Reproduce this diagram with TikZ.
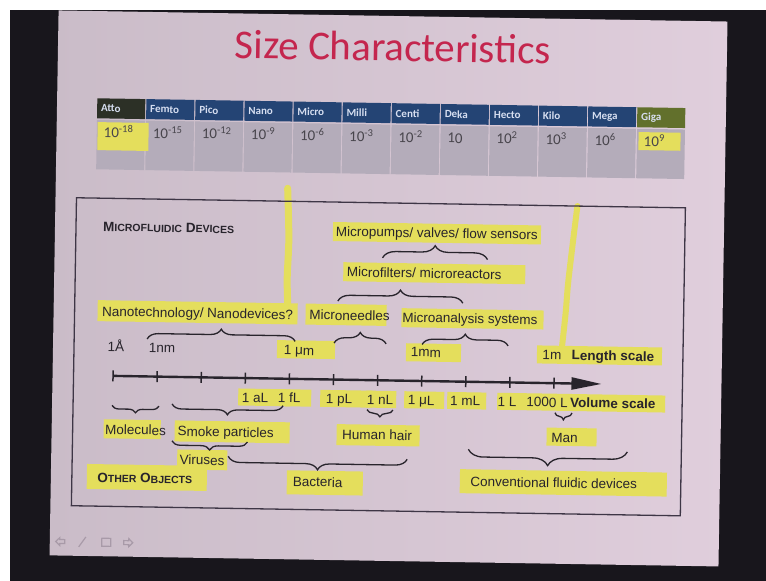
\documentclass[tikz,border=0pt]{standalone}
\usepackage{fontspec}
\setmainfont{Liberation Sans}
\newfontfamily\titlefont{Carlito}
\usetikzlibrary{positioning, arrows.meta, decorations.pathreplacing}

\definecolor{framedark}{RGB}{24,22,28}
\definecolor{slidepink}{RGB}{224,206,220}
\definecolor{slidegray}{RGB}{202,188,200}
\definecolor{hlyellow}{RGB}{228,222,92}
\definecolor{inkgray}{RGB}{40,36,44}
\definecolor{titlered}{RGB}{196,38,78}
\definecolor{hdrblue}{RGB}{36,68,116}
\definecolor{hdrdark}{RGB}{44,48,38}
\definecolor{hdrgreen}{RGB}{98,112,44}
\definecolor{cellgray}{RGB}{180,172,186}
\definecolor{hdrtext}{RGB}{214,222,240}
\definecolor{boxline}{RGB}{62,54,70}
\definecolor{icongray}{RGB}{168,154,168}

\newcommand{\smallcap}[2]{#1{\fontsize{10.5}{12}\selectfont #2}}

\begin{document}
\begin{tikzpicture}[x=1pt, y=-1pt,
  lbl/.style={font=\fontsize{13.5}{15}\selectfont, text=inkgray, inner sep=0pt, anchor=base},
  bold lbl/.style={font=\fontsize{13.5}{15}\selectfont\bfseries, text=inkgray, inner sep=0pt, anchor=base west},
  hdrcell/.style={anchor=north west, minimum width=48pt, minimum height=20pt, text width=40pt,
    inner xsep=4pt, inner ysep=0pt, align=left, font=\titlefont\fontsize{11}{12}\selectfont\bfseries, text=hdrtext},
  valcell/.style={anchor=north west, fill=cellgray, minimum width=48pt, minimum height=49.5pt, inner sep=0pt},
  valtxt/.style={anchor=base west, inner sep=0pt, font=\titlefont\fontsize{15}{17}\selectfont, text=inkgray!85},
  hl/.style={fill=hlyellow},
  brc/.style={draw=inkgray, line width=1.3pt, decorate, decoration={brace, amplitude=#1}}]
\useasboundingbox (0,0) rectangle (766,581);
\fill[white] (0,0) rectangle (766,581);
\fill[framedark] (10,10) rectangle (766,581);

\begin{scope}[rotate around={-0.95:(392,290)}, transform shape]
\shade[left color=slidegray, right color=slidepink] (54,16) rectangle (723,561);

\node[font=\titlefont\fontsize{41}{46}\selectfont, text=titlered, anchor=base] (title) at (389,61) {Size Characteristics};

\foreach \nm/\hc/\ex [count=\i from 0] in {Atto/hdrdark/-18, Femto/hdrblue/-15, Pico/hdrblue/-12,
    Nano/hdrblue/-9, Micro/hdrblue/-6, Milli/hdrblue/-3, Centi/hdrblue/-2, Deka/hdrblue/,
    Hecto/hdrblue/2, Kilo/hdrblue/3, Mega/hdrblue/6, Giga/hdrgreen/9} {
  \node[hdrcell, fill=\hc] (hdr\i) at ({94+49.1*\i},103) {\nm};
  \node[valcell] (cell\i) at ({94+49.1*\i},124.5) {};
}
\fill[hl] (95,127) rectangle (146,155);
\fill[hl] (636,128) rectangle (678,146);
\foreach \ex [count=\i from 0] in {-18,-15,-12,-9,-6,-3,-2,,2,3,6,9} {
  \node[valtxt] (val\i) at ({101+49.1*\i},142) {10\textsuperscript{\ex}};
}

\fill[hl] (332,223) rectangle (540,242);
\fill[hl] (343,263) rectangle (525,282);
\fill[hl] (98,305) rectangle (298,326);
\fill[hl] (306,305) rectangle (387,326);
\fill[hl] (402,308) rectangle (544,327);
\fill[hl] (278,342) rectangle (336,360);
\fill[hl] (407,343) rectangle (462,361);
\fill[hl] (538,343) rectangle (663,361);
\fill[hl] (240,391) rectangle (292,408);
\fill[hl] (281,391) rectangle (313,408);
\fill[hl] (322,391) rectangle (374,408);
\fill[hl] (368,391) rectangle (398,408);
\fill[hl] (406,391) rectangle (446,408);
\fill[hl] (449,391) rectangle (488,408);
\fill[hl] (499,391) rectangle (667,408);
\fill[hl] (106,424) rectangle (163,443);
\fill[hl] (177,424) rectangle (292,445);
\fill[hl] (339,425) rectangle (422,446);
\fill[hl] (549,425) rectangle (599,443);
\fill[hl] (180,453) rectangle (230,473);
\fill[hl] (90,469) rectangle (210,494);
\fill[hl] (290,472) rectangle (366,496);
\fill[hl] (463,468) rectangle (670,492);
\draw[hlyellow, line width=7pt, line cap=round] plot[smooth] coordinates {(286,190) (288,240) (287,280) (288,306)};
\draw[hlyellow, line width=6pt, line cap=round] plot[smooth] coordinates {(576,203) (572,240) (568,280) (566,310) (563,343)};

\draw[boxline, line width=1.3pt] (75,203) rectangle (684,511);

\node[font=\fontsize{13.5}{15}\selectfont\bfseries, text=inkgray, inner sep=0pt, anchor=base west] (mfd) at (102,236)
  {\smallcap{M}{ICROFLUIDIC} \smallcap{D}{EVICES}};
\node[lbl] (pumps) at (436,237) {Micropumps/ valves/ flow sensors};
\node[lbl] (filters) at (424,277.5) {Microfilters/ microreactors};
\node[lbl] (nano) at (198,321) {Nanotechnology/ Nanodevices?};
\node[lbl] (needles) at (350,321) {Microneedles};
\node[lbl] (analysis) at (470.5,322) {Microanalysis systems};

\node[lbl] (angstrom) at (117,356.5) {1Å};
\node[lbl] (nm) at (163,356.5) {1nm};
\node[lbl] (um) at (300,356.5) {1 μm};
\node[lbl] (mm) at (427,356.5) {1mm};
\node[lbl] (m) at (553,357) {1m};
\node[bold lbl, right=10pt of m.base east, anchor=base west] (lenscale) {Length scale};

\coordinate (ax0) at (114.5,380.5);
\coordinate (ax1) at (603,380.5);
\draw[inkgray, line width=2.4pt, -{Triangle[length=30pt, width=12pt]}] (ax0) -- (ax1);
\foreach \k in {0,...,10}
  \draw[inkgray, line width=1.5pt] ({114.5+44.1*\k},375) -- ++(0,11);

\node[lbl] (al) at (257,404.5) {1 aL};
\node[lbl] (fl) at (291,404.5) {1 fL};
\node[lbl] (pl) at (341,404.5) {1 pL};
\node[lbl] (nl) at (382,404.5) {1 nL};
\node[lbl] (ul) at (423,404.5) {1 μL};
\node[lbl] (ml) at (467,404.5) {1 mL};
\node[lbl] (l) at (509,404.5) {1 L};
\node[lbl] (kl) at (549,404.5) {1000 L};
\node[bold lbl, right=2pt of kl.base east, anchor=base west] (volscale) {Volume scale};

\node[lbl] (molecules) at (138,439) {Molecules};
\node[lbl] (smoke) at (228,439.5) {Smoke particles};
\node[lbl] (viruses) at (205,468) {Viruses};
\node[lbl] (bacteria) at (321,488) {Bacteria};
\node[font=\fontsize{13.5}{15}\selectfont\bfseries, text=inkgray, inner sep=0pt, anchor=base] (other) at (148,487)
  {\smallcap{O}{THER} \smallcap{O}{BJECTS}};
\node[lbl] (hair) at (379.5,440) {Human hair};
\node[lbl] (man) at (567,440) {Man};
\node[lbl] (conv) at (557,485) {Conventional fluidic devices};

\draw[brc=13pt] (382,258) -- (487,258);
\draw[brc=12pt] (338,302) -- (463,302);
\draw[brc=11pt] (148,343) -- (296,343);
\draw[brc=11pt] (335,344) -- (387,344);
\draw[brc=11pt] (423,344) -- (509,344);
\draw[brc=7pt] (161,410) -- (114,410);
\draw[brc=10pt] (285,407.5) -- (174,407.5);
\draw[brc=7pt] (395,410) -- (369,410);
\draw[brc=7pt] (574,410) -- (557,410);
\draw[brc=8.5pt] (250,444.5) -- (174.5,444.5);
\draw[brc=12pt] (410,459) -- (231,459);
\draw[brc=15pt] (630,448) -- (471,448);

\draw[icongray, line width=1.2pt] (60,547) -- (64,543) -- (64,545) -- (69,545) -- (69,549) -- (64,549) -- (64,551) -- cycle;
\draw[icongray, line width=1.2pt] (83,552) -- (90,542);
\draw[icongray, line width=1.2pt] (106,543) rectangle (115,551);
\draw[icongray, line width=1.2pt] (137,547) -- (133,543) -- (133,545) -- (128,545) -- (128,549) -- (133,549) -- (133,551) -- cycle;
\end{scope}
\end{tikzpicture}
\end{document}
